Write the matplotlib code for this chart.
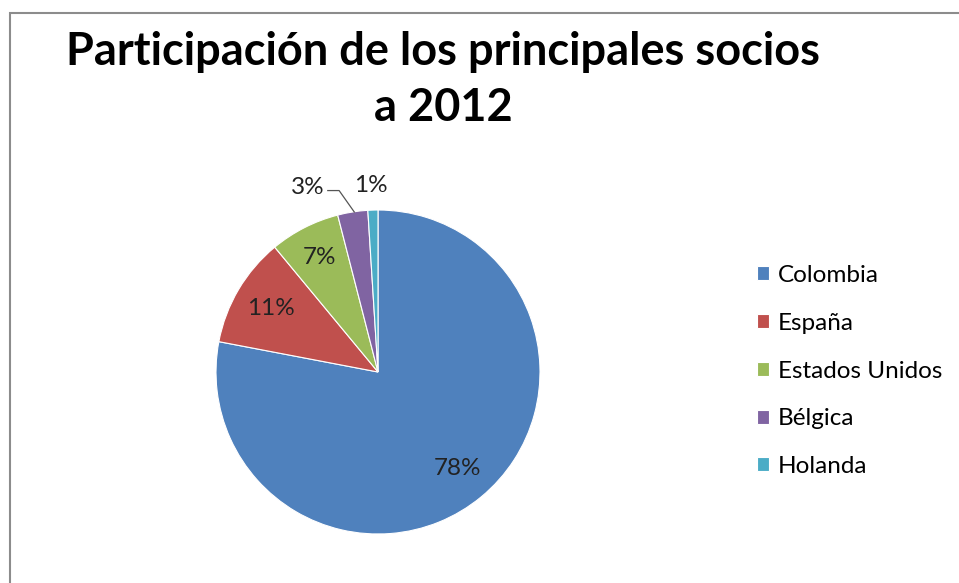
import numpy as np
import matplotlib
matplotlib.use("Agg")
import matplotlib.pyplot as plt
from matplotlib.patches import Rectangle

# datos
paises = ["Colombia", "España", "Estados Unidos", "Bélgica", "Holanda"]
participacion = [78, 11, 7, 3, 1]
colores = ["#4F81BD", "#C0504D", "#9BBB59", "#8064A2", "#4BACC6"]
titulo = "Participación de los principales socios\na 2012"

plt.rcParams['font.family'] = ['Lato', 'DejaVu Sans']

W, H = 959, 583
fig = plt.figure(figsize=(W / 100, H / 100), dpi=100)

# pie axes: center (378, 372) px, radius 162 px
cx, cy, r = 378, 372, 162
ax = fig.add_axes([(cx - r) / W, (H - cy - r) / H, 2 * r / W, 2 * r / H])
wedges, texts, autotexts = ax.pie(participacion, colors=colores, startangle=90,
                                  counterclock=False, autopct='%1.0f%%',
                                  pctdistance=0.77,
                                  wedgeprops=dict(edgecolor='white', linewidth=0.8),
                                  textprops=dict(fontsize=17.5, color='#222222'))
ax.set_xlim(-1, 1)
ax.set_ylim(-1, 1)
ax.set_aspect('auto')

# small slices: labels outside
for i, w in enumerate(wedges):
    mid = np.deg2rad((w.theta1 + w.theta2) / 2)
    if participacion[i] == 3:
        tx, ty = -0.33, 1.14
        autotexts[i].set_position((tx, ty))
        autotexts[i].set_ha('right')
        ex, ey = np.cos(mid), np.sin(mid)
        ax.plot([tx + 0.02, tx + 0.09, ex + 0.01], [ty - 0.02, ty - 0.02, ey], color='#555555',
                lw=0.9, clip_on=False)
    elif participacion[i] == 1:
        autotexts[i].set_position((1.15 * np.cos(mid) - 0.01, 1.15 * np.sin(mid)))
    elif participacion[i] == 7:
        autotexts[i].set_position((0.79 * np.cos(mid), 0.79 * np.sin(mid)))

fig.text(443 / W, 1 - 80 / H, titulo, ha='center', va='center', fontsize=32.5,
         fontweight='bold', linespacing=1.42)

fig.legend(wedges, paises, loc='center left', bbox_to_anchor=(757 / W, 1 - 371 / H),
           frameon=False, fontsize=17.5, handlelength=0.5, handleheight=0.5,
           handletextpad=0.35, labelspacing=1.1, borderpad=0, borderaxespad=0)

fig.patches.append(Rectangle((10 / W, -0.05), 1.0, 1.05 - 13 / H,
                             transform=fig.transFigure, fill=False,
                             edgecolor='#8c8c8c', linewidth=1.5))

fig.savefig("out.png", dpi=100)
